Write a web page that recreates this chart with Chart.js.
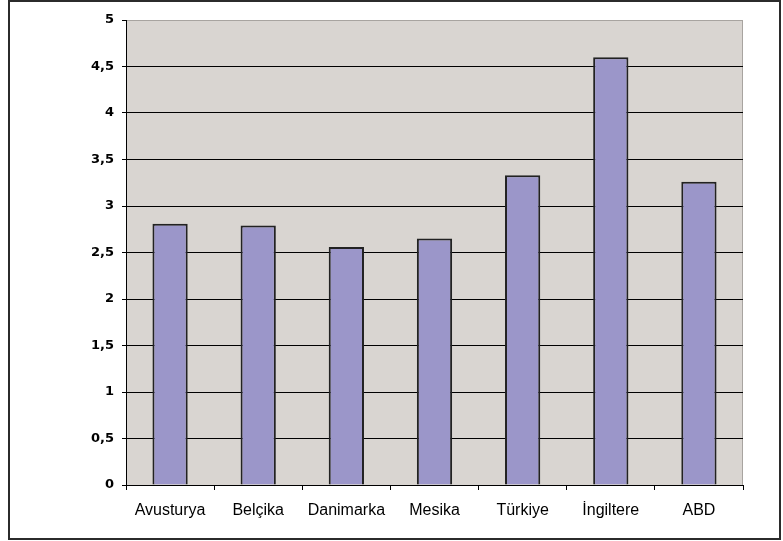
<!DOCTYPE html>
<html>
<head>
<meta charset="utf-8">
<script src="https://cdn.jsdelivr.net/npm/chart.js@4/dist/chart.umd.min.js"></script>
<style>
  html, body { margin: 0; padding: 0; background: #fff; }
  #wrap { width: 783px; height: 541px; position: relative; }
</style>
</head>
<body>
<div id="wrap"><canvas id="myChart" width="783" height="541"></canvas></div>
<script>
// data
const countries = ['Avusturya', 'Belçika', 'Danimarka', 'Mesika', 'Türkiye', 'İngiltere', 'ABD']
const values = [2.81, 2.79, 2.56, 2.65, 3.33, 4.6, 3.26]
const yTicks = [0, 0.5, 1, 1.5, 2, 2.5, 3, 3.5, 4, 4.5, 5]

// frame + plot background, like the old Excel chart
const excelLook = {
    id: 'excelLook',
    beforeDraw(chart) {
        const ctx = chart.ctx
        const a = chart.chartArea
        ctx.save()
        ctx.fillStyle = '#fff'
        ctx.fillRect(0, 0, chart.width, chart.height)
        ctx.strokeStyle = '#2b2b2b'
        ctx.lineWidth = 2
        ctx.strokeRect(9, 1, 771, 538)
        ctx.fillStyle = '#d9d5d1'
        ctx.fillRect(a.left, a.top, a.right - a.left, a.bottom - a.top)
        ctx.strokeStyle = '#a8a4a0'
        ctx.lineWidth = 1
        ctx.strokeRect(a.left + 0.5, a.top + 0.5, a.right - a.left - 1, a.bottom - a.top)
        ctx.restore()
    }
}

let ctx = document.getElementById('myChart').getContext('2d')
var chart = new Chart(ctx, {
    type: 'bar',
    data: {
        labels: countries,
        datasets: [{
            data: values,
            backgroundColor: '#9b96c9',
            borderColor: '#222',
            borderWidth: 2,
            barPercentage: 0.4,
            categoryPercentage: 1
        }]
    },
    options: {
        responsive: false,
        animation: false,
        layout: { padding: { top: 20, right: 40, left: 0, bottom: 0 } },
        plugins: { legend: { display: false }, tooltip: { enabled: false } },
        scales: {
            x: {
                afterFit(scale) { scale.height = 56 },
                grid: { drawOnChartArea: false, color: '#000', tickLength: 5, offset: true },
                border: { color: '#000', width: 1 },
                ticks: {
                    color: '#000',
                    padding: 11,
                    font: { family: 'Liberation Sans', size: 16 }
                }
            },
            y: {
                min: 0,
                max: 5,
                afterFit(scale) { scale.width = 126 },
                afterBuildTicks(scale) { scale.ticks = yTicks.map(v => ({ value: v })) },
                grid: {
                    color: c => (c.tick && c.tick.value === 5) ? 'rgba(0,0,0,0)' : '#000',
                    tickColor: '#000',
                    tickLength: 4
                },
                border: { color: '#000', width: 1 },
                ticks: {
                    color: '#000',
                    padding: 8,
                    font: { family: 'DejaVu Sans', size: 13, weight: 'bold' },
                    callback: v => String(v).replace('.', ',')
                }
            }
        }
    },
    plugins: [excelLook]
});
</script>
</body>
</html>
